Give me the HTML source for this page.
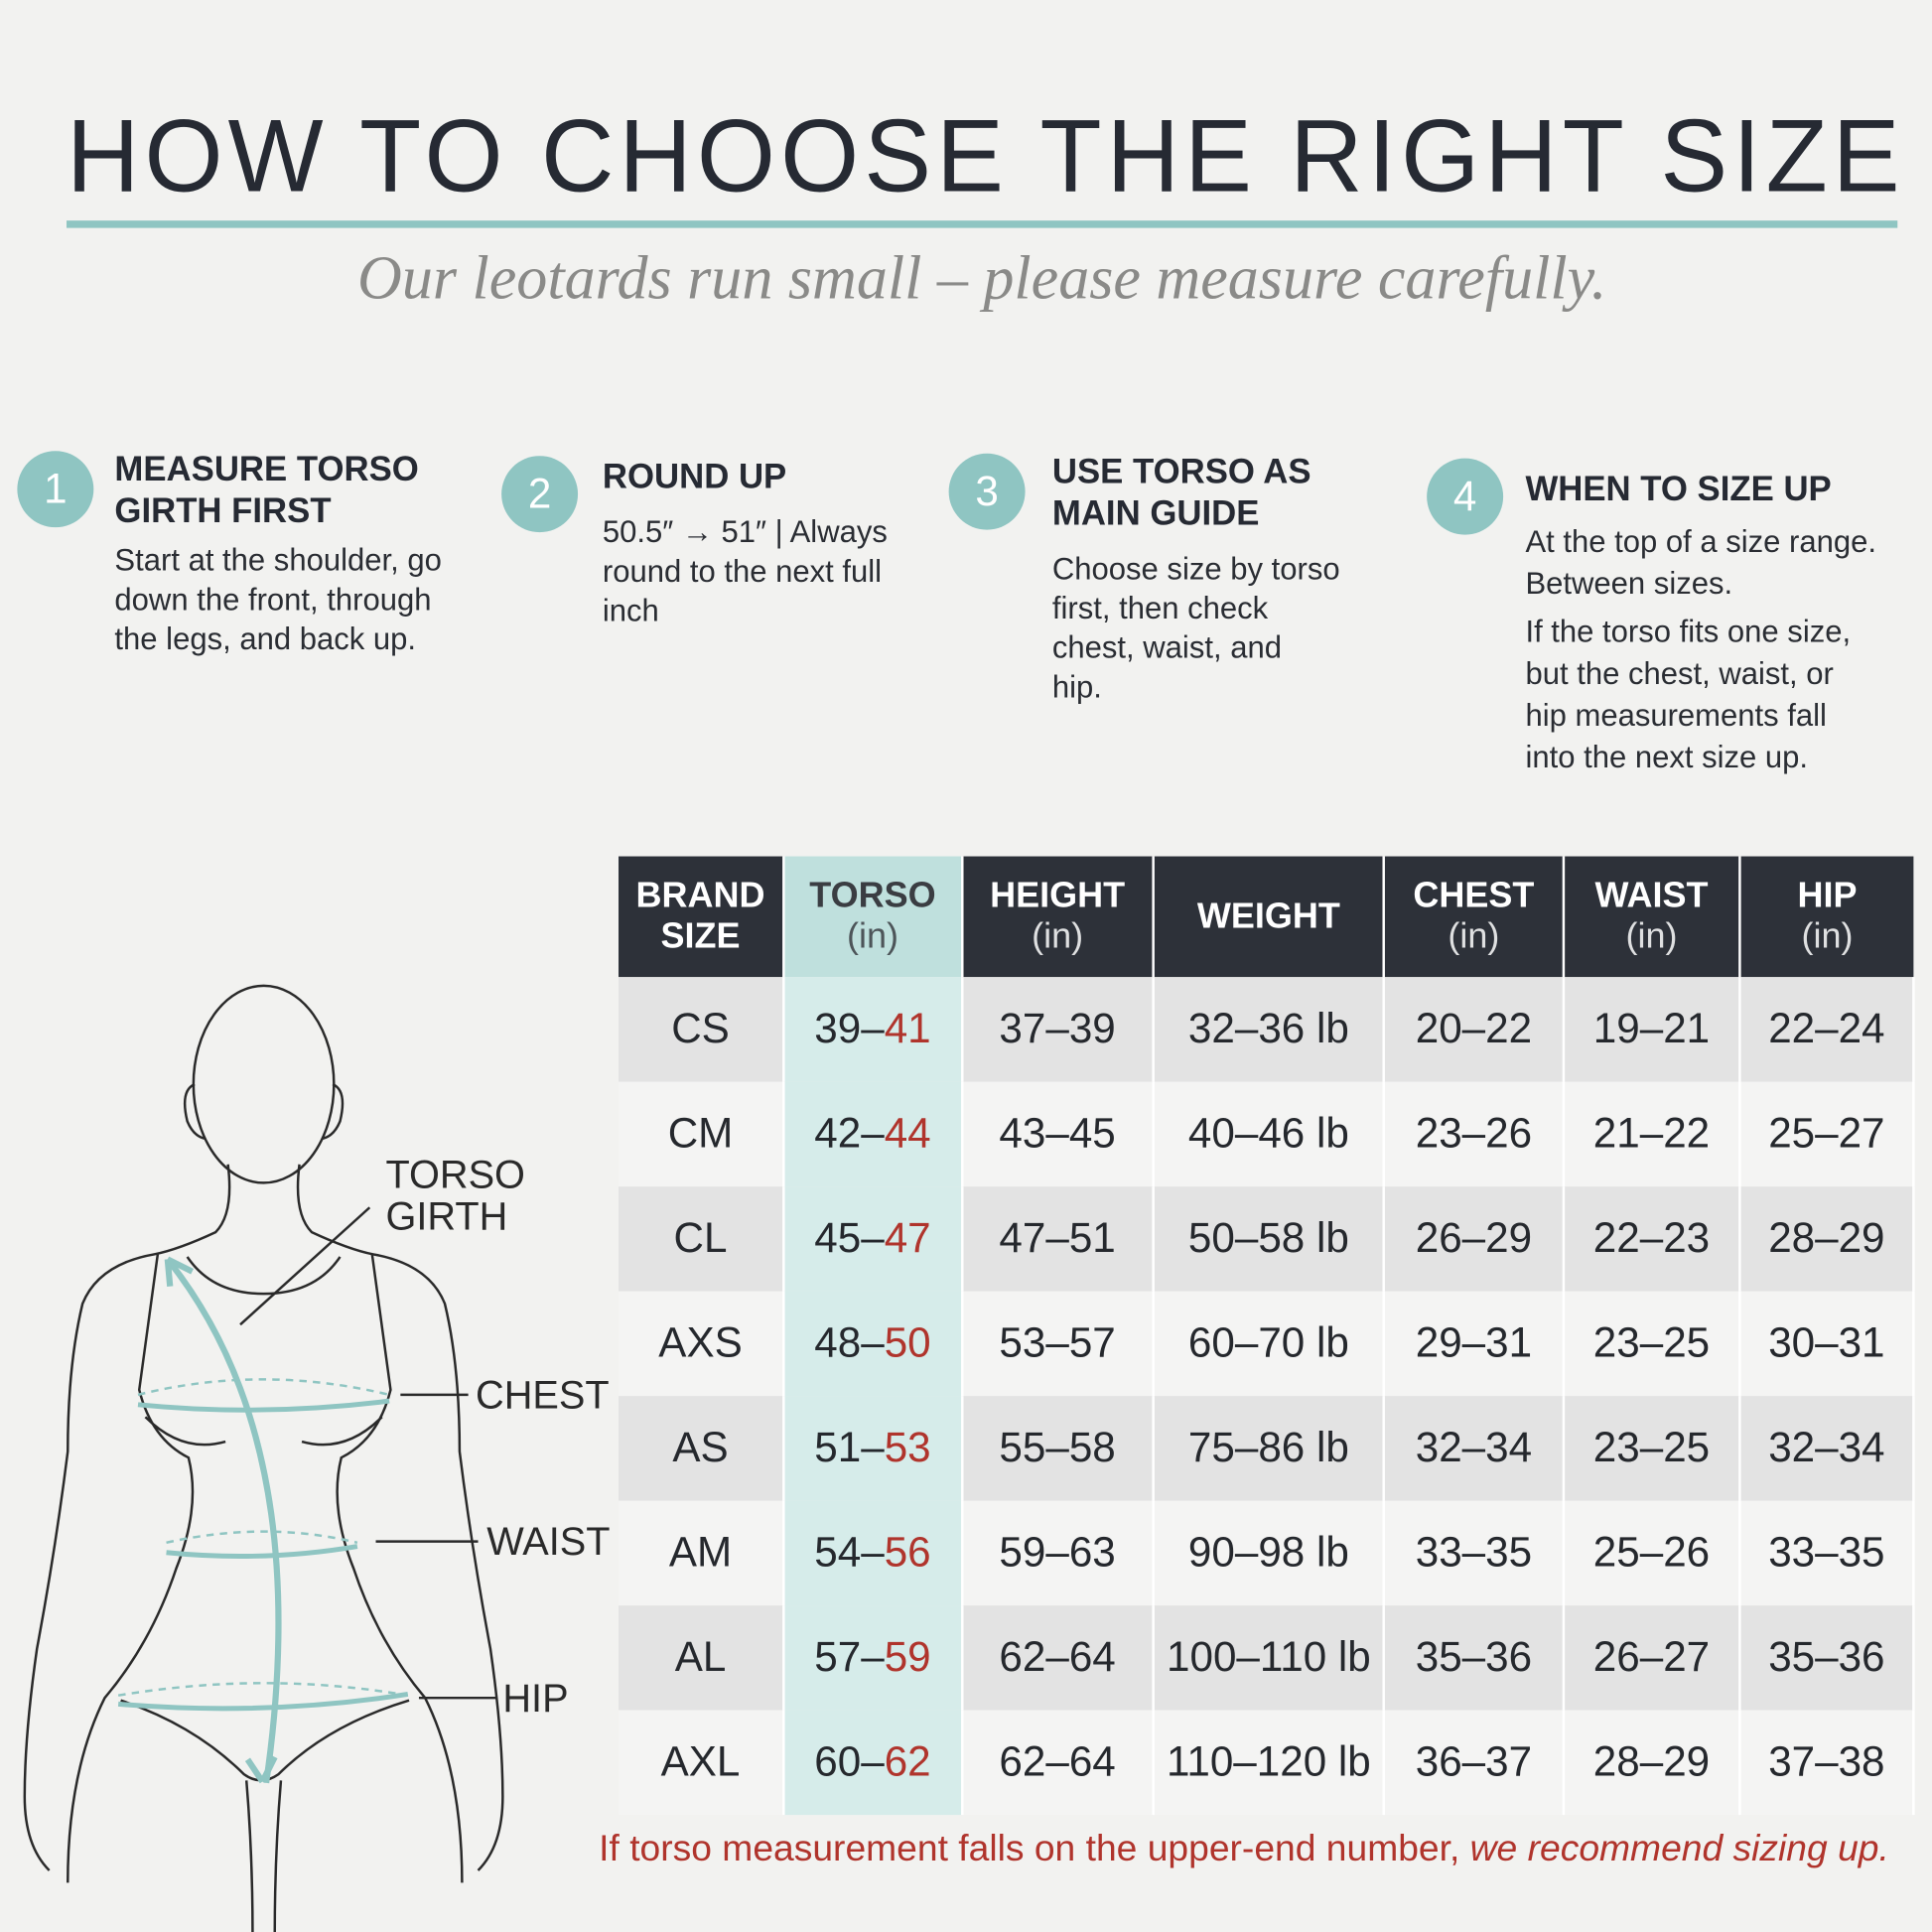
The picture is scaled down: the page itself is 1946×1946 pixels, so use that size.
<!DOCTYPE html>
<html><head><meta charset="utf-8"><style>
html,body{margin:0;padding:0;background:#f2f2f0;}
#w{width:1568px;height:1568px;transform:scale(1.24107);transform-origin:0 0;position:relative;background:#f2f2f0;font-family:"Liberation Sans",sans-serif;color:#2a2d33;overflow:hidden}
.a{position:absolute}
h1{position:absolute;left:54px;top:78px;margin:0;font-family:"Liberation Sans",sans-serif;font-weight:400;font-size:84px;letter-spacing:4.2px;color:#262a33;white-space:nowrap;transform:scaleX(0.975);transform-origin:0 0}
.sub{left:0;width:1594px;text-align:center;top:196px;font-family:"Liberation Serif",serif;font-style:italic;font-size:50px;color:#8a8a88}
.c{position:absolute;width:62px;height:62px;border-radius:50%;background:#8fc5c2;color:#fff;font-size:34px;text-align:center;line-height:62px}
.t{position:absolute;font-weight:700;font-size:28px;line-height:34px;color:#262a33}
.b{position:absolute;font-size:25px;line-height:32px;color:#2a2d33}
table{position:absolute;left:502px;top:695px;border-collapse:collapse;width:1052px}
td,th{padding:0;text-align:center;border-right:2px solid #fff}
th{background:#2d3139;color:#fff;height:98px;font-size:29px;line-height:33px}
th span{font-weight:400;opacity:.85}
th.tt{background:#bfe0dd;color:#3a3d42}
td{height:85px;font-size:34px;color:#25282d}
tr.g td{background:#e3e3e3}
tr.l td{background:#f4f4f3}
td.tc{background:#d6ecea!important}
.r{color:#b0342c}
.lab{position:absolute;font-size:32px;color:#2a2a2a}
</style></head><body><div id="w">
<h1>HOW TO CHOOSE THE RIGHT SIZE</h1>
<div class="a" style="left:54px;top:179px;width:1486px;height:6px;background:#8fc5c2"></div>
<div class="a sub">Our leotards run small – please measure carefully.</div>

<div class="c" style="left:14px;top:366px">1</div>
<div class="t" style="left:93px;top:364px">MEASURE TORSO<br>GIRTH FIRST</div>
<div class="b" style="left:93px;top:439px">Start at the shoulder, go<br>down the front, through<br>the legs, and back up.</div>

<div class="c" style="left:407px;top:370px">2</div>
<div class="t" style="left:489px;top:370px">ROUND UP</div>
<div class="b" style="left:489px;top:416px">50.5″ → 51″ | Always<br>round to the next full<br>inch</div>

<div class="c" style="left:770px;top:368px">3</div>
<div class="t" style="left:854px;top:366px">USE TORSO AS<br>MAIN GUIDE</div>
<div class="b" style="left:854px;top:446px">Choose size by torso<br>first, then check<br>chest, waist, and<br>hip.</div>

<div class="c" style="left:1158px;top:372px">4</div>
<div class="t" style="left:1238px;top:380px">WHEN TO SIZE UP</div>
<div class="b" style="left:1238px;top:423px;line-height:34px">At the top of a size range.<br>Between sizes.</div>
<div class="b" style="left:1238px;top:496px;line-height:34px">If the torso fits one size,<br>but the chest, waist, or<br>hip measurements fall<br>into the next size up.</div>

<svg class="a" style="left:0;top:780px" width="510" height="788" viewBox="0 780 510 788" fill="none" stroke="#2a2a2a" stroke-width="2">
<ellipse cx="214" cy="880" rx="57" ry="80"/>
<path d="M158 880 q-12 5 -6 30 q5 12 14 14 M270 880 q12 5 6 30 q-5 12 -14 14"/>
<path d="M185 945 q5 40 -10 55 q-30 14 -50 18 q-45 8 -58 40 q-12 50 -12 120 q-10 80 -25 160 q-10 70 -10 120 q0 40 20 60 M243 945 q-5 40 10 55 q30 14 50 18 q45 8 58 40 q12 50 12 120 q10 80 25 160 q10 70 10 120 q0 40 -20 60"/>
<path d="M128 1018 q-8 60 -15 110 q10 40 40 55 q10 40 -10 90 q-20 60 -58 105 q-30 60 -30 150 M302 1018 q8 60 15 110 q-10 40 -40 55 q-10 40 10 90 q20 60 58 105 q30 60 30 150"/>
<path d="M152 1020 q20 30 62 30 q42 0 62 -30"/>
<path d="M118 1150 q30 30 65 20 M310 1150 q-30 30 -65 20"/>
<path d="M98 1380 q60 20 100 60 q14 10 28 0 q40 -40 106 -60"/>
<path d="M200 1445 q5 60 5 123 M228 1445 q-5 60 -5 123"/>
<path d="M195 1075 L300 980 M325 1132 H380 M305 1251 H388 M340 1378 H403"/>
<g stroke="#8fc5c2" stroke-width="4">
<path d="M112 1140 q100 10 204 -3"/>
<path d="M135 1260 q80 8 155 -5"/>
<path d="M96 1383 q120 10 235 -8"/>
<path d="M136 1022 q120 150 80 425" stroke-width="5"/>
<path d="M136 1022 l2 22 M136 1022 l20 10 M213 1446 l-12 -18 M213 1446 l10 -20" stroke-width="5"/>
</g>
<g stroke="#8fc5c2" stroke-width="2" stroke-dasharray="6 5">
<path d="M112 1132 q100 -25 204 0 M135 1252 q80 -18 155 0 M96 1376 q120 -20 235 0"/>
</g>
</svg>
<div class="lab" style="left:313px;top:936px;line-height:34px">TORSO<br>GIRTH</div>
<div class="lab" style="left:386px;top:1114px">CHEST</div>
<div class="lab" style="left:395px;top:1233px">WAIST</div>
<div class="lab" style="left:408px;top:1360px">HIP</div>

<table>
<tr><th style="width:134px">BRAND<br>SIZE</th><th class="tt" style="width:144px">TORSO<br><span>(in)</span></th><th style="width:155px">HEIGHT<br><span>(in)</span></th><th style="width:188px">WEIGHT</th><th style="width:145px">CHEST<br><span>(in)</span></th><th style="width:143px">WAIST<br><span>(in)</span></th><th style="width:143px;border-right:0">HIP<br><span>(in)</span></th></tr>
<tr class="g"><td>CS</td><td class="tc">39–<span class="r">41</span></td><td>37–39</td><td>32–36 lb</td><td>20–22</td><td>19–21</td><td>22–24</td></tr>
<tr class="l"><td>CM</td><td class="tc">42–<span class="r">44</span></td><td>43–45</td><td>40–46 lb</td><td>23–26</td><td>21–22</td><td>25–27</td></tr>
<tr class="g"><td>CL</td><td class="tc">45–<span class="r">47</span></td><td>47–51</td><td>50–58 lb</td><td>26–29</td><td>22–23</td><td>28–29</td></tr>
<tr class="l"><td>AXS</td><td class="tc">48–<span class="r">50</span></td><td>53–57</td><td>60–70 lb</td><td>29–31</td><td>23–25</td><td>30–31</td></tr>
<tr class="g"><td>AS</td><td class="tc">51–<span class="r">53</span></td><td>55–58</td><td>75–86 lb</td><td>32–34</td><td>23–25</td><td>32–34</td></tr>
<tr class="l"><td>AM</td><td class="tc">54–<span class="r">56</span></td><td>59–63</td><td>90–98 lb</td><td>33–35</td><td>25–26</td><td>33–35</td></tr>
<tr class="g"><td>AL</td><td class="tc">57–<span class="r">59</span></td><td>62–64</td><td>100–110 lb</td><td>35–36</td><td>26–27</td><td>35–36</td></tr>
<tr class="l"><td style="height:78px">AXL</td><td class="tc">60–<span class="r">62</span></td><td>62–64</td><td>110–120 lb</td><td>36–37</td><td>28–29</td><td>37–38</td></tr>
</table>
<div class="a" style="left:486px;top:1484px;font-size:30px;color:#b0342c;white-space:nowrap">If torso measurement falls on the upper-end number, <i>we recommend sizing up.</i></div>
</div></body></html>
